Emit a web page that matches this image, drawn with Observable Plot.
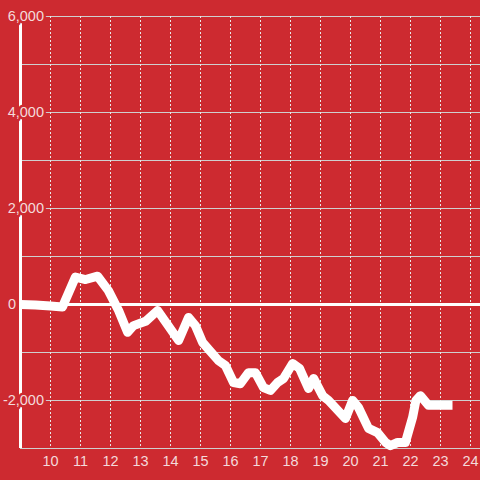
<!DOCTYPE html>
<html>
<head>
<meta charset="utf-8">
<script src="https://cdn.jsdelivr.net/npm/d3@7"></script>
<script src="https://cdn.jsdelivr.net/npm/@observablehq/plot@0.6"></script>
<style>
  html, body { margin: 0; padding: 0; background: #cd2a30; }
  #chart { width: 480px; height: 480px; }
</style>
</head>
<body>
<div id="chart"></div>
<script>
const times = [9.0, 9.5, 10.0, 10.4, 10.83, 11.17, 11.57, 11.93, 12.27, 12.57, 12.77, 13.17, 13.57, 14.27, 14.6, 14.83, 15.07, 15.6, 15.83, 16.1, 16.33, 16.6, 16.83, 17.1, 17.33, 17.57, 17.77, 18.07, 18.3, 18.6, 18.77, 19.07, 19.27, 19.83, 20.07, 20.27, 20.6, 20.9, 21.17, 21.33, 21.57, 21.83, 22.07, 22.18, 22.33, 22.6, 23.4];
const values = [0, -10, -30, -50, 570, 520, 590, 290, -125, -580, -440, -350, -125, -750, -270, -440, -790, -1170, -1270, -1625, -1650, -1420, -1420, -1730, -1790, -1625, -1540, -1230, -1330, -1750, -1540, -1900, -2000, -2375, -2000, -2150, -2580, -2670, -2875, -2940, -2875, -2875, -2350, -2000, -1900, -2100, -2100];
const xTicks = [10, 11, 12, 13, 14, 15, 16, 17, 18, 19, 20, 21, 22, 23, 24];
const yGrid = [-3000, -2000, -1000, 0, 1000, 2000, 3000, 4000, 5000, 6000];
const yLabels = [6000, 4000, 2000, -2000];
const yZeroLabel = [0];
const xDomain = [9, 24.333];
const yDomain = [-3000, 6000];

const data = times.map((t, i) => ({t, v: values[i]}));
const fmt = d => d3.format(",")(d).replace("\u2212", "-");
const red = "#cd2a30";
const labelColor = "#f4dadb";
const font = "'Liberation Sans', Arial, sans-serif";

const chart = Plot.plot({
  width: 480,
  height: 480,
  marginLeft: 20,
  marginRight: 0,
  marginTop: 16,
  marginBottom: 32,
  style: {background: red, fontFamily: font, fontSize: "14.5px"},
  x: {domain: xDomain, axis: null},
  y: {domain: yDomain, axis: null},
  marks: [
    Plot.ruleY(yGrid, {y: d => d, stroke: "#cfcfcf", strokeWidth: 1}),
    Plot.ruleX(xTicks, {x: d => d, stroke: "#e8e8e8", strokeDasharray: "2,2", strokeWidth: 1}),
    Plot.ruleY([0], {y: d => d, stroke: "white", strokeWidth: 3}),
    Plot.ruleX([xDomain[0]], {x: d => d, stroke: "white", strokeWidth: 3}),
    Plot.line(data, {x: "t", y: "v", stroke: "white", strokeWidth: 9, strokeLinejoin: "round", strokeLinecap: "butt"}),
    Plot.text(yLabels, {y: d => d, text: fmt, frameAnchor: "left", textAnchor: "end", dx: 23.5, fill: labelColor, stroke: red, strokeWidth: 5, paintOrder: "stroke"}),
    Plot.text(yZeroLabel, {y: d => d, text: fmt, frameAnchor: "left", textAnchor: "start", dx: -12.5, fill: labelColor}),
    Plot.text(xTicks, {x: d => d, text: d => String(d), frameAnchor: "bottom", dy: 13, lineAnchor: "middle", fill: labelColor})
  ]
});
document.getElementById("chart").appendChild(chart);
</script>
</body>
</html>
